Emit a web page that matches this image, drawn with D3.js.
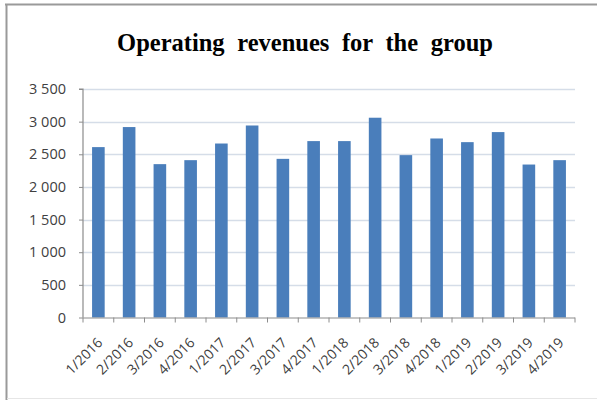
<!DOCTYPE html>
<html><head><meta charset="utf-8">
<script src="https://cdn.jsdelivr.net/npm/d3@7/dist/d3.min.js"></script>
<style>body{margin:0;background:#fff}svg{display:block}</style>
</head><body>
<svg id="c" width="597" height="400"></svg>
<script>
const categories = ["1/2016","2/2016","3/2016","4/2016","1/2017","2/2017","3/2017","4/2017","1/2018","2/2018","3/2018","4/2018","1/2019","2/2019","3/2019","4/2019"];
const values = [2610,2917,2349,2410,2665,2941,2430,2702,2702,3060,2487,2742,2686,2840,2343,2410];
const yTicks = [0,500,1000,1500,2000,2500,3000,3500];
const title = "Operating revenues for the group";

const svg = d3.select("#c");
const m = {left:83, right:575, top:89, bottom:317.5};

// frame
svg.append("line").attr("x1",5).attr("x2",597).attr("y1",4.5).attr("y2",4.5).attr("stroke","#9a9a9a").attr("stroke-width",2);
svg.append("line").attr("x1",6.5).attr("x2",6.5).attr("y1",4).attr("y2",400).attr("stroke","#9a9a9a").attr("stroke-width",2);
svg.append("line").attr("x1",7).attr("x2",597).attr("y1",398.5).attr("y2",398.5).attr("stroke","#e6e6e6").attr("stroke-width",1);

const fmt = v => d3.format(",")(v).replace(/,/g," ");
const x = d3.scaleBand().domain(categories).range([m.left, m.right]).paddingInner(0.59).paddingOuter(0.295);
const y = d3.scaleLinear().domain([0,3500]).range([m.bottom, m.top]);

// gridlines
svg.append("g").selectAll("line").data(yTicks.filter(d=>d>0)).join("line")
  .attr("x1",m.left).attr("x2",m.right)
  .attr("y1",d=>Math.round(y(d))+0.5).attr("y2",d=>Math.round(y(d))+0.5)
  .attr("stroke","#d5dde8").attr("stroke-width",1.3);

// bars
svg.append("g").selectAll("rect").data(values).join("rect")
  .attr("x",(d,i)=>x(categories[i]))
  .attr("width",x.bandwidth())
  .attr("y",d=>y(d))
  .attr("height",d=>y(0)-y(d))
  .attr("fill","#4a7ebb");

// y axis
const yAxis = d3.axisLeft(y).tickValues(yTicks).tickFormat(fmt).tickSize(4).tickPadding(13);
const gy = svg.append("g").attr("transform",`translate(${m.left},0)`).call(yAxis);
gy.select(".domain").attr("stroke","#8c8c8c").attr("stroke-width",1.2).attr("d",`M-4,${m.top}H0V${m.bottom}`);
gy.selectAll(".tick line").attr("stroke","#8c8c8c");
gy.selectAll(".tick text").attr("fill","#404040").style("font-family","'Open Sans', sans-serif").style("font-size","14.5px");

// x axis
const xb = d3.scaleLinear().domain([0,categories.length]).range([m.left,m.right]);
const gx = svg.append("g").attr("transform",`translate(0,${m.bottom})`);
gx.append("line").attr("x1",m.left).attr("x2",m.right).attr("y1",0.5).attr("y2",0.5).attr("stroke","#8c8c8c").attr("stroke-width",1.2);
gx.selectAll("line.t").data(d3.range(categories.length+1)).join("line").attr("class","t")
  .attr("x1",d=>xb(d)).attr("x2",d=>xb(d)).attr("y1",0).attr("y2",5).attr("stroke","#8c8c8c");
gx.selectAll("text").data(categories).join("text")
  .attr("transform",d=>`translate(${x(d)+x.bandwidth()/2+5},${26}) rotate(-45)`)
  .attr("text-anchor","end")
  .attr("fill","#404040").style("font-family","'Open Sans', sans-serif").style("font-size","14px")
  .text(d=>d);

// title
svg.append("text").attr("x",305).attr("y",51).attr("text-anchor","middle")
  .style("font-family","'Liberation Serif','Times New Roman',serif").style("font-weight","bold").style("font-size","24.5px")
  .style("word-spacing","6.5px").attr("fill","#000").text(title);
</script>
</body></html>
